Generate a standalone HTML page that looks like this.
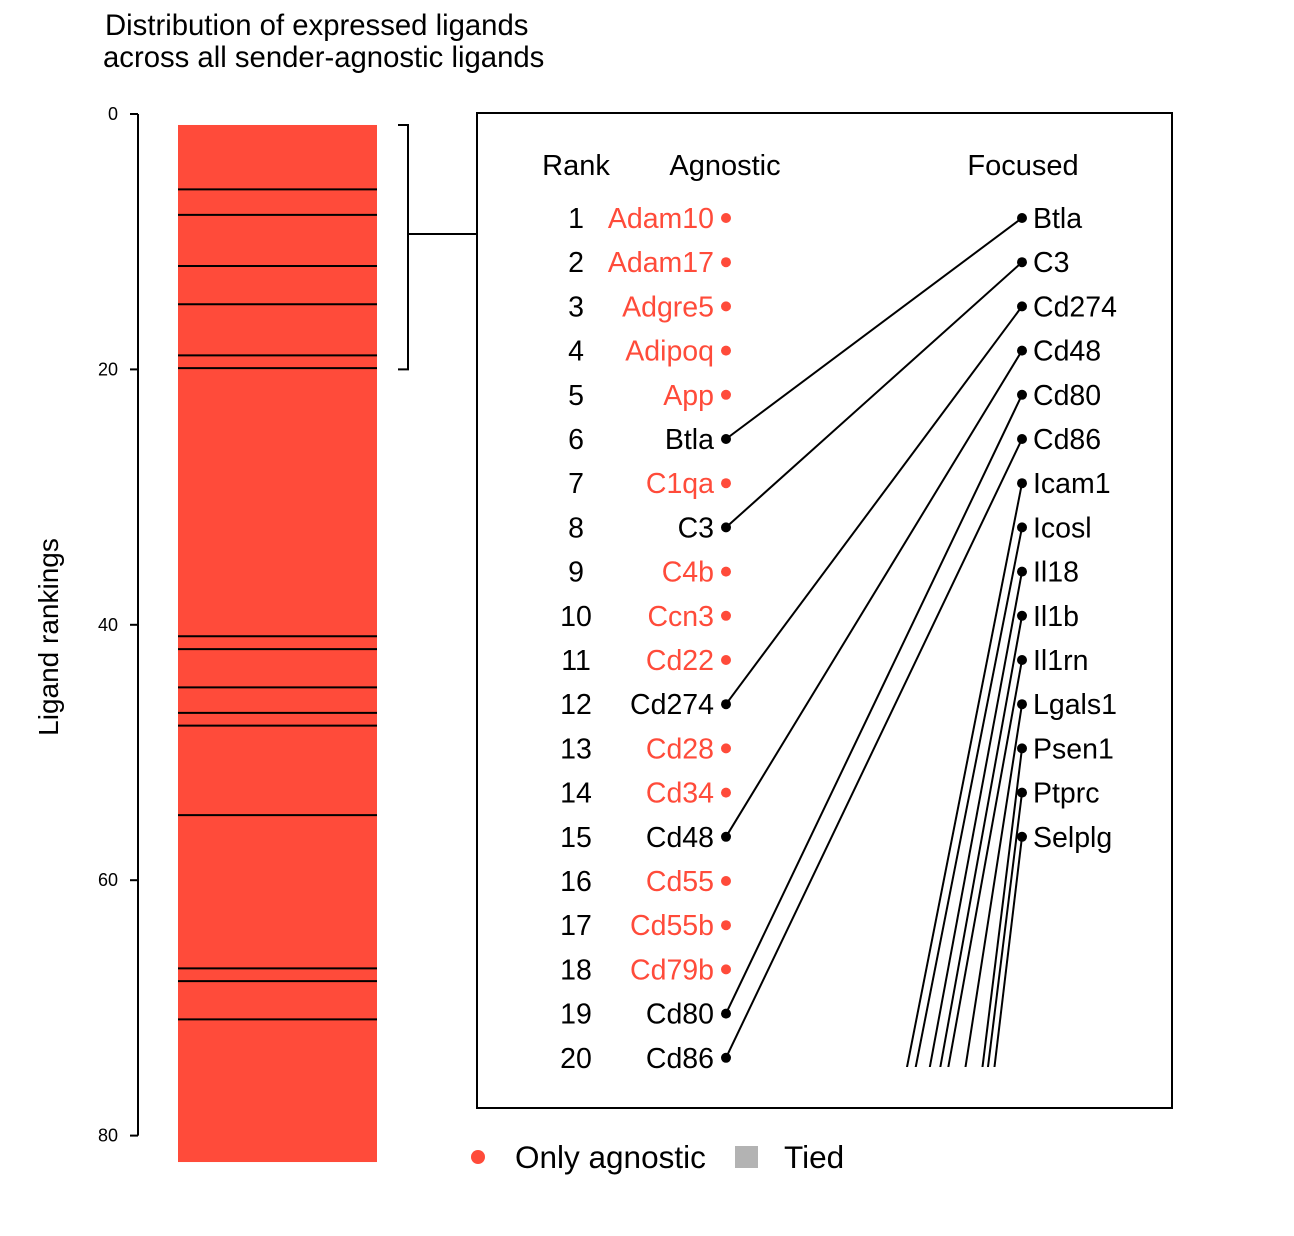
<!DOCTYPE html>
<html><head><meta charset="utf-8"><style>
html,body{margin:0;background:#fff;overflow:hidden;width:1294px;height:1236px}
svg{display:block}
svg text{font-family:"Liberation Sans",Arial,sans-serif}
</style></head><body>
<svg id="c" width="1294" height="1236" xmlns="http://www.w3.org/2000/svg">
<defs><clipPath id="boxclip"><rect x="477" y="113" width="695" height="954"/></clipPath></defs>
<g id="g"></g>
</svg>
<script>
const yTicks=[0,20,40,60,80];
const markedRanks=[6,8,12,15,19,20,41,42,45,47,48,55,67,68,71];
const agnosticNames=["Adam10","Adam17","Adgre5","Adipoq","App","Btla","C1qa","C3","C4b","Ccn3","Cd22","Cd274","Cd28","Cd34","Cd48","Cd55","Cd55b","Cd79b","Cd80","Cd86"];
const focusedNames=["Btla","C3","Cd274","Cd48","Cd80","Cd86","Icam1","Icosl","Il18","Il1b","Il1rn","Lgals1","Psen1","Ptprc","Selplg"];
const focusedAgnosticRank=[6,8,12,15,19,20,41,42,45,47,48,55,67,68,71];
const RED="#FF4B3A";
const NS="http://www.w3.org/2000/svg";
const g=document.getElementById('g');
function mk(t,a,p){const e=document.createElementNS(NS,t);for(const k in a)e.setAttribute(k,a[k]);(p||g).appendChild(e);return e;}
const yRank=r=>114+r*12.77;
const yRow=i=>218+i*44.2;
let t=mk('text',{x:105,y:35,'font-size':29.3});t.textContent="Distribution of expressed ligands";

t=mk('text',{x:103,y:67,'font-size':29.3});t.textContent="across all sender-agnostic ligands";

let ax=mk('line',{x1:138,y1:yRank(0),x2:138,y2:yRank(80),stroke:'#000','stroke-width':2});

yTicks.forEach(v=>{
 const l=mk('line',{x1:130,x2:138,y1:yRank(v),y2:yRank(v),stroke:'#000','stroke-width':2});
 
 const tx=mk('text',{x:118,y:yRank(v)+6,'font-size':18,'text-anchor':'end'});tx.textContent=v;
 
});
t=mk('text',{x:0,y:0,'font-size':28,'text-anchor':'middle',transform:'translate(58,637) rotate(-90)'});t.textContent="Ligand rankings";

let bar=mk('rect',{x:178,y:yRank(0.86),width:199,height:yRank(82.07)-yRank(0.86),fill:RED});

markedRanks.forEach(r=>{
 const l=mk('line',{x1:178,x2:377,y1:yRank(r-0.1),y2:yRank(r-0.1),stroke:'#000','stroke-width':2});
 
});
let br=mk('path',{d:`M398 ${yRank(0.86)} H408 V${yRank(20)} H398 M408 234 H477`,fill:'none',stroke:'#000','stroke-width':2});

let bx=mk('rect',{x:477,y:113,width:695,height:995,fill:'none',stroke:'#000','stroke-width':2});

[["Rank",576,'rank-header'],["Agnostic",725,'agnostic-header'],["Focused",1023,'focused-header']].forEach(h=>{
 const e=mk('text',{x:h[1],y:175,'font-size':29,'text-anchor':'middle'});e.textContent=h[0];
 
});
const lg=mk('g',{'clip-path':'url(#boxclip)'});
focusedNames.forEach((n,i)=>{
 const l=mk('line',{x1:1022,y1:yRow(i),x2:726,y2:yRow(focusedAgnosticRank[i]-1),stroke:'#000','stroke-width':2},lg);
 
});
agnosticNames.forEach((n,i)=>{
 const only=!focusedNames.includes(n);
 const y=yRow(i);
 const r=mk('text',{x:576,y:y+10,'font-size':28.5,'text-anchor':'middle'});r.textContent=i+1;
 
 const a=mk('text',{x:714,y:y+10,'font-size':28.5,'text-anchor':'end',fill:only?RED:'#000'});a.textContent=n;
 
 const d=mk('circle',{cx:726,cy:y,r:5,fill:only?RED:'#000'});
 
});
focusedNames.forEach((n,i)=>{
 const y=yRow(i);
 const d=mk('circle',{cx:1022,cy:y,r:5,fill:'#000'});
 
 const a=mk('text',{x:1033,y:y+10,'font-size':28.5});a.textContent=n;
 
});
let c=mk('circle',{cx:478,cy:1157,r:7,fill:RED});
t=mk('text',{x:515,y:1168,'font-size':31.5});t.textContent="Only agnostic";
let s=mk('rect',{x:735,y:1146,width:23,height:22,fill:'#B3B3B3'});
t=mk('text',{x:784,y:1168,'font-size':31.5});t.textContent="Tied";
</script>
</body></html>
